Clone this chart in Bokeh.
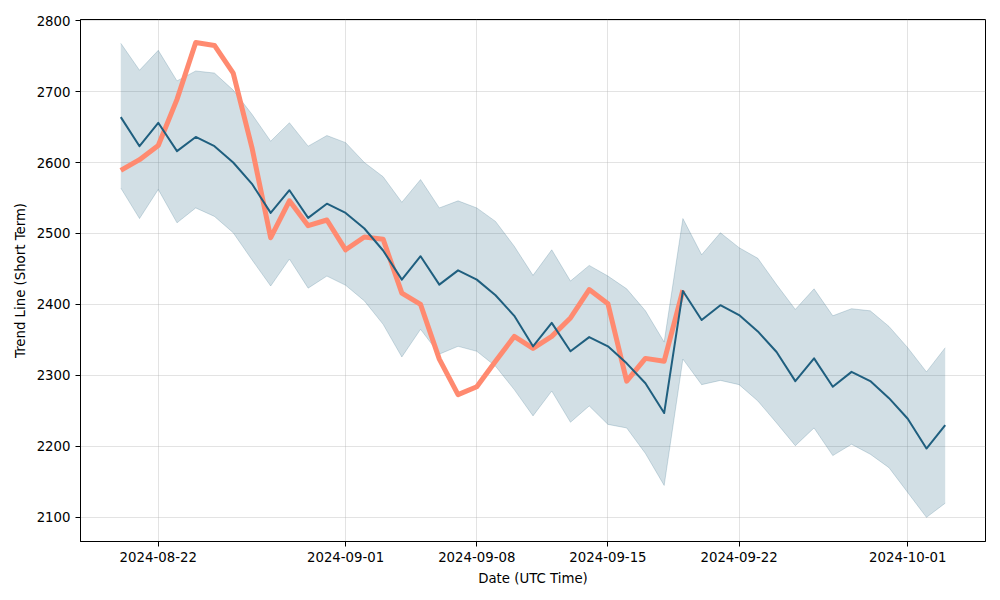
import pandas as pd
from bokeh.plotting import figure
from bokeh.models import Range1d, FixedTicker, DatetimeTickFormatter, ColumnDataSource
from bokeh.embed import file_html
from bokeh.resources import INLINE

dates = pd.date_range("2024-08-20", "2024-10-03", freq="D")
trend = [2664, 2623, 2656, 2616, 2636, 2623, 2600, 2570, 2529, 2561,
         2522, 2542, 2529, 2507, 2476, 2435, 2468, 2428, 2448, 2435,
         2413, 2384, 2341, 2374, 2334, 2354, 2341, 2317, 2289, 2247,
         2419, 2378, 2399, 2385, 2362, 2333, 2292, 2324, 2284, 2305,
         2292, 2268, 2239, 2197, 2230]
upper = [2768, 2730, 2758, 2715, 2729, 2726, 2702, 2668, 2630, 2656,
         2623, 2638, 2628, 2600, 2580, 2544, 2576, 2536, 2546, 2536,
         2517, 2482, 2441, 2477, 2433, 2455, 2440, 2422, 2391, 2347,
         2521, 2470, 2501, 2480, 2465, 2428, 2393, 2422, 2384, 2394,
         2391, 2369, 2339, 2305, 2339]
lower = [2564, 2521, 2562, 2515, 2536, 2524, 2501, 2463, 2426, 2464,
         2423, 2440, 2427, 2405, 2372, 2326, 2365, 2330, 2341, 2334,
         2313, 2280, 2243, 2278, 2234, 2257, 2231, 2226, 2190, 2145,
         2323, 2287, 2293, 2287, 2264, 2233, 2201, 2226, 2187, 2203,
         2189, 2170, 2135, 2100, 2120]
actual = [2589, 2604, 2624, 2689, 2769, 2765, 2726, 2621, 2494, 2546,
          2511, 2519, 2477, 2495, 2492, 2416, 2400, 2323, 2273, 2284,
          2320, 2355, 2338, 2355, 2381, 2421, 2401, 2292, 2324, 2320,
          2420]
x_ticks = ["2024-08-22", "2024-09-01", "2024-09-08", "2024-09-15", "2024-09-22", "2024-10-01"]
y_ticks = [2100, 2200, 2300, 2400, 2500, 2600, 2700, 2800]

BLUE = "#1f5f7f"
ORANGE = "#ff8a70"
FONT = "DejaVu Sans"

src = ColumnDataSource(dict(x=dates, trend=trend, upper=upper, lower=lower))
asrc = ColumnDataSource(dict(x=dates[:len(actual)], y=actual))

pad = pd.Timedelta(days=2.15)
p = figure(width=992, height=590, output_backend="svg", toolbar_location=None,
           x_axis_type="datetime",
           x_range=Range1d(dates[0] - pad, dates[-1] + pad),
           y_range=Range1d(2066, 2801.5),
           min_border_left=80, min_border_right=7, min_border_top=19, min_border_bottom=49)

p.varea(x="x", y1="lower", y2="upper", source=src, fill_color=BLUE, fill_alpha=0.2)
p.line(x="x", y="upper", source=src, line_color=BLUE, line_alpha=0.2, line_width=1)
p.line(x="x", y="lower", source=src, line_color=BLUE, line_alpha=0.2, line_width=1)
p.line(x="x", y="y", source=asrc, line_color=ORANGE, line_width=5, line_join="round")
p.line(x="x", y="trend", source=src, line_color=BLUE, line_width=2, line_join="round")

p.xaxis.ticker = FixedTicker(ticks=[pd.Timestamp(d).value // 10**6 for d in x_ticks])
p.xaxis.formatter = DatetimeTickFormatter(days="%Y-%m-%d", months="%Y-%m-%d", years="%Y-%m-%d")
p.yaxis.ticker = FixedTicker(ticks=y_ticks)

p.xaxis.axis_label = "Date (UTC Time)"
p.yaxis.axis_label = "Trend Line (Short Term)"
for ax in (p.xaxis, p.yaxis):
    ax.axis_label_text_font = FONT
    ax.axis_label_text_font_style = "normal"
    ax.axis_label_text_font_size = "13.3px"
    ax.axis_label_text_color = "black"
    ax.major_label_text_font = FONT
    ax.major_label_text_font_size = "13.3px"
    ax.major_label_text_color = "black"
    ax.axis_line_color = "black"
    ax.major_tick_line_color = "black"
    ax.major_tick_out = 5
    ax.major_tick_in = 0
    ax.minor_tick_line_color = None
p.xaxis.axis_label_standoff = 6
p.yaxis.axis_label_standoff = 6

p.grid.grid_line_color = "#b0b0b0"
p.grid.grid_line_alpha = 0.35
p.outline_line_color = "black"
p.outline_line_alpha = 1

open("out.html", "w").write(file_html(p, INLINE))
